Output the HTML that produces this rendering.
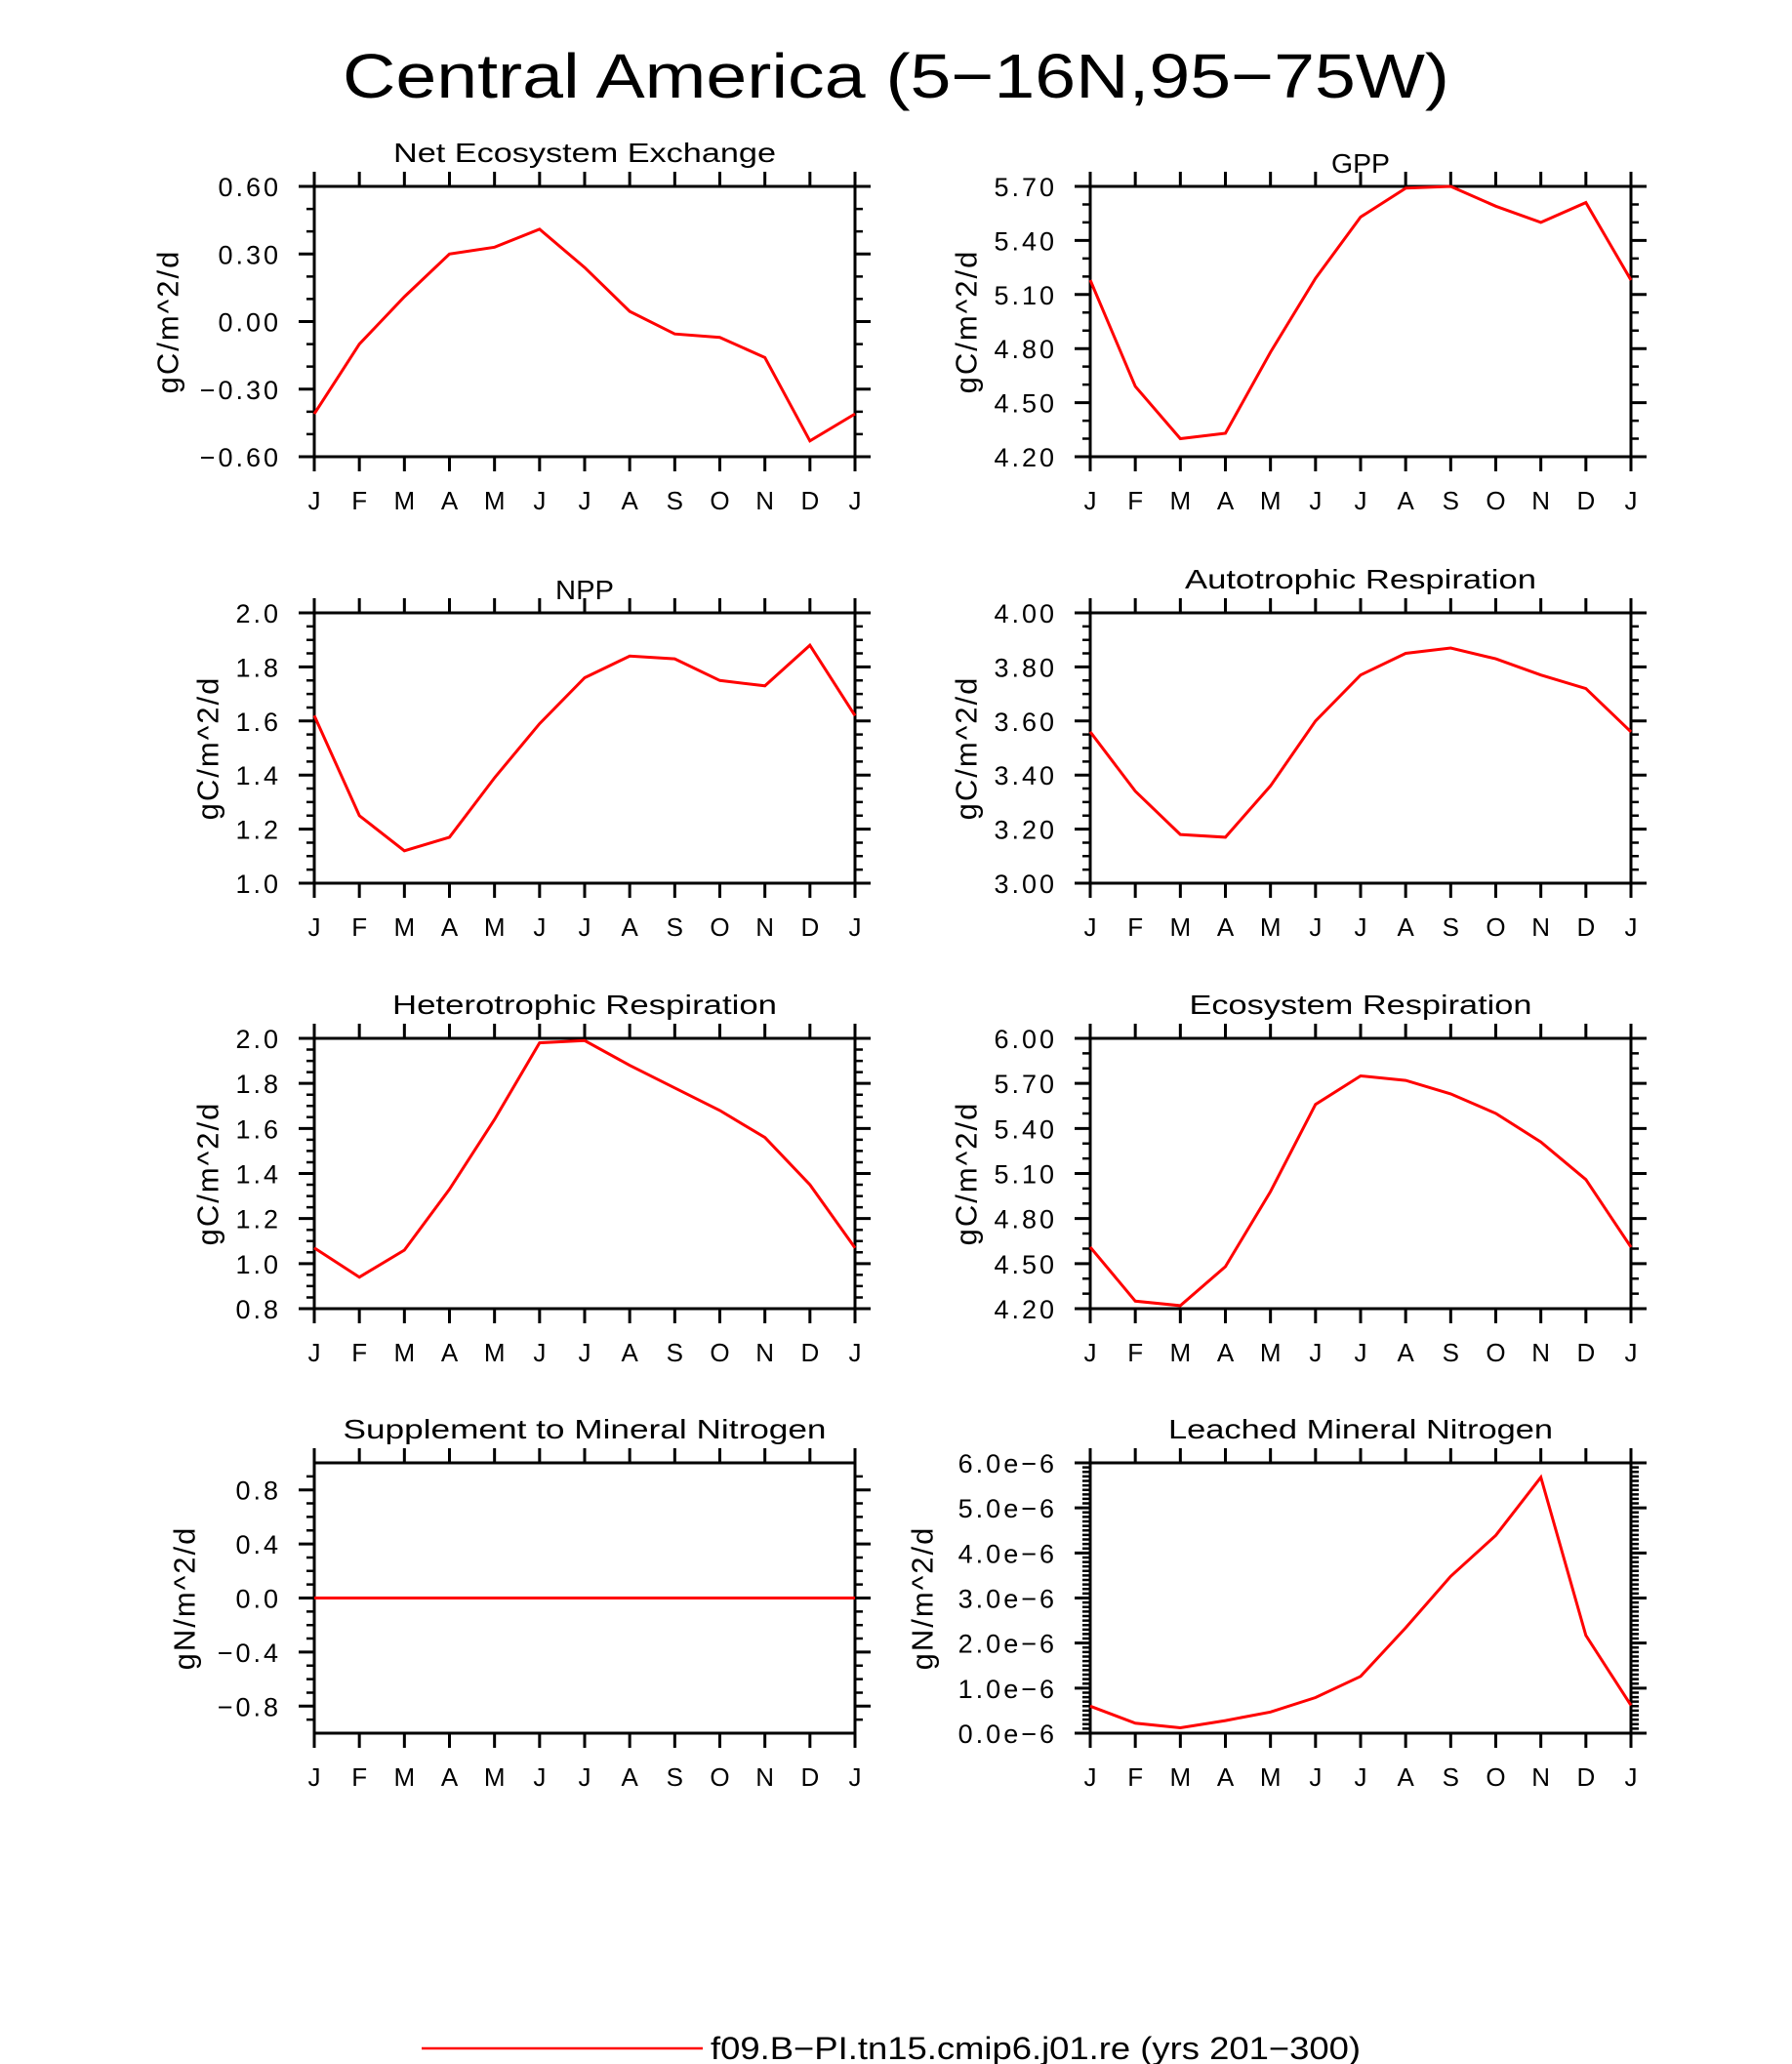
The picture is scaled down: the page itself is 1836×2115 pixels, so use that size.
<!DOCTYPE html>
<html><head><meta charset="utf-8"><style>
html,body{margin:0;padding:0;background:#fff}
svg{display:block}
text{font-family:"Liberation Sans",sans-serif;fill:#000}
</style></head><body>
<svg id="fig" width="1836" height="2115" viewBox="0 0 1836 2115" xmlns="http://www.w3.org/2000/svg">
<text x="918" y="100" text-anchor="middle" font-size="64" textLength="1134" lengthAdjust="spacingAndGlyphs">Central America (5−16N,95−75W)</text>
<line x1="432" y1="2099" x2="720" y2="2099" stroke="#ff0000" stroke-width="2.5"/>
<text x="728" y="2110" font-size="32" textLength="666" lengthAdjust="spacingAndGlyphs">f09.B−PI.tn15.cmip6.j01.re (yrs 201−300)</text>
</svg>
<script>
const months = ["J","F","M","A","M","J","J","A","S","O","N","D","J"];
const neeValues = [-0.41,-0.10,0.11,0.30,0.33,0.41,0.24,0.045,-0.055,-0.07,-0.16,-0.53,-0.41];
const gppValues = [5.18,4.59,4.30,4.33,4.78,5.19,5.53,5.69,5.70,5.59,5.50,5.61,5.18];
const nppValues = [1.62,1.25,1.12,1.17,1.39,1.59,1.76,1.84,1.83,1.75,1.73,1.88,1.62];
const arValues = [3.56,3.34,3.18,3.17,3.36,3.60,3.77,3.85,3.87,3.83,3.77,3.72,3.56];
const hrValues = [1.07,0.94,1.06,1.33,1.64,1.98,1.99,1.88,1.78,1.68,1.56,1.35,1.07];
const erValues = [4.61,4.25,4.22,4.48,4.98,5.56,5.75,5.72,5.63,5.50,5.31,5.06,4.61];
const supValues = [0,0,0,0,0,0,0,0,0,0,0,0,0];
const leachValues = [0.6e-6,0.22e-6,0.12e-6,0.28e-6,0.47e-6,0.79e-6,1.26e-6,2.34e-6,3.48e-6,4.39e-6,5.68e-6,2.17e-6,0.62e-6];
const neeTicks = ["0.60","0.30","0.00","−0.30","−0.60"];
const gppTicks = ["5.70","5.40","5.10","4.80","4.50","4.20"];
const nppTicks = ["2.0","1.8","1.6","1.4","1.2","1.0"];
const arTicks = ["4.00","3.80","3.60","3.40","3.20","3.00"];
const hrTicks = ["2.0","1.8","1.6","1.4","1.2","1.0","0.8"];
const erTicks = ["6.00","5.70","5.40","5.10","4.80","4.50","4.20"];
const supTicks = ["0.8","0.4","0.0","−0.4","−0.8"];
const leachTicks = ["6.0e−6","5.0e−6","4.0e−6","3.0e−6","2.0e−6","1.0e−6","0.0e−6"];

const NS="http://www.w3.org/2000/svg";
const fig=document.getElementById('fig');
function mk(tag,attrs,parent){const e=document.createElementNS(NS,tag);for(const k in attrs)e.setAttribute(k,attrs[k]);(parent||fig).appendChild(e);return e;}
function num(s){return parseFloat(s.replace('−','-'));}

const panels=[
 {name:'nee',title:'Net Ecosystem Exchange',tl:392,units:'gC/m^2/d',vals:neeValues,ticks:neeTicks,min:-0.6,max:0.6,minor:2,col:0,row:0,ytx:172,short:false},
 {name:'gpp',title:'GPP',tl:60,units:'gC/m^2/d',vals:gppValues,ticks:gppTicks,min:4.2,max:5.7,minor:2,col:1,row:0,ytx:990,short:true},
 {name:'npp',title:'NPP',tl:60,units:'gC/m^2/d',vals:nppValues,ticks:nppTicks,min:1.0,max:2.0,minor:3,col:0,row:1,ytx:213,short:true},
 {name:'autotrophic-respiration',title:'Autotrophic Respiration',tl:360,units:'gC/m^2/d',vals:arValues,ticks:arTicks,min:3.0,max:4.0,minor:3,col:1,row:1,ytx:990,short:false},
 {name:'heterotrophic-respiration',title:'Heterotrophic Respiration',tl:394,units:'gC/m^2/d',vals:hrValues,ticks:hrTicks,min:0.8,max:2.0,minor:3,col:0,row:2,ytx:213,short:false},
 {name:'ecosystem-respiration',title:'Ecosystem Respiration',tl:351,units:'gC/m^2/d',vals:erValues,ticks:erTicks,min:4.2,max:6.0,minor:2,col:1,row:2,ytx:990,short:false},
 {name:'supplement-mineral-nitrogen',title:'Supplement to Mineral Nitrogen',tl:495,units:'gN/m^2/d',vals:supValues,ticks:supTicks,min:-1,max:1,minor:3,col:0,row:3,ytx:189,short:false},
 {name:'leached-mineral-nitrogen',title:'Leached Mineral Nitrogen',tl:394,units:'gN/m^2/d',vals:leachValues,ticks:leachTicks,min:0,max:6e-6,minor:9,col:1,row:3,ytx:945,short:false,sci:1e-6}
];
const lefts=[322,1117], W=554, tops=[191,628,1064,1499], H=277;

panels.forEach(p=>{
 const L=lefts[p.col], T=tops[p.row], R=L+W, B=T+H;
 const g=mk('g',{});
 
 
 const xs=i=>L+i*W/12;
 const ys=v=>B-(v-p.min)/(p.max-p.min)*H;
 const t=mk('text',{x:(L+R)/2,y:p.short?T-14:T-25,'text-anchor':'middle','font-size':28,textLength:p.tl,lengthAdjust:'spacingAndGlyphs'},g);
 t.textContent=p.title;
 
 
 const yt=mk('text',{x:0,y:0,transform:`translate(${p.ytx},${(T+B)/2}) rotate(-90)`,'text-anchor':'middle','dominant-baseline':'central','font-size':31,'letter-spacing':'2'},g);
 yt.textContent=p.units;
 
 
 months.forEach((m,i)=>{
  const x=xs(i);
  const tk=mk('path',{d:`M${x},${T}V${T-15}M${x},${B}V${B+15}`,stroke:'#000','stroke-width':3},g);
  
  
  const lb=mk('text',{x:x,y:B+54,'text-anchor':'middle','font-size':26},g);
  lb.textContent=m;
  
  
 });
 const vals=p.ticks.map(s=>p.sci?num(s.replace('e−6',''))*p.sci:num(s));
 vals.forEach((v,k)=>{
  const y=ys(v);
  const tk=mk('path',{d:`M${L},${y}H${L-16}M${R},${y}H${R+16}`,stroke:'#000','stroke-width':3},g);
  
  
  const lb=mk('text',{x:L-34,y:y+10,'text-anchor':'end','font-size':27,'letter-spacing':'3'},g);
  lb.textContent=p.ticks[k];
  
  
  if(k<vals.length-1){
   const step=(vals[k+1]-v)/(p.minor+1);
   for(let j=1;j<=p.minor;j++){
    const yy=ys(v+step*j);
    mk('path',{d:`M${L},${yy}H${L-8}M${R},${yy}H${R+8}`,stroke:'#000','stroke-width':2.5},g);
   }
  }
 });
 if(vals[0]<p.max){const step=(vals[0]-vals[1])/(p.minor+1);for(let v=vals[0]+step;v<p.max-1e-12;v+=step){const yy=ys(v);mk('path',{d:`M${L},${yy}H${L-8}M${R},${yy}H${R+8}`,stroke:'#000','stroke-width':2.5},g);}}
 if(vals[vals.length-1]>p.min){const step=(vals[0]-vals[1])/(p.minor+1);for(let v=vals[vals.length-1]-step;v>p.min+1e-12;v-=step){const yy=ys(v);mk('path',{d:`M${L},${yy}H${L-8}M${R},${yy}H${R+8}`,stroke:'#000','stroke-width':2.5},g);}}
 const fr=mk('rect',{x:L,y:T,width:W,height:H,fill:'none',stroke:'#000','stroke-width':3},g);
 
 
 const pts=p.vals.map((v,i)=>xs(i).toFixed(1)+','+ys(v).toFixed(1)).join(' ');
 const ln=mk('polyline',{points:pts,fill:'none',stroke:'#ff0000','stroke-width':3,'stroke-linejoin':'miter'},g);
 
 
});
</script>
</body></html>
